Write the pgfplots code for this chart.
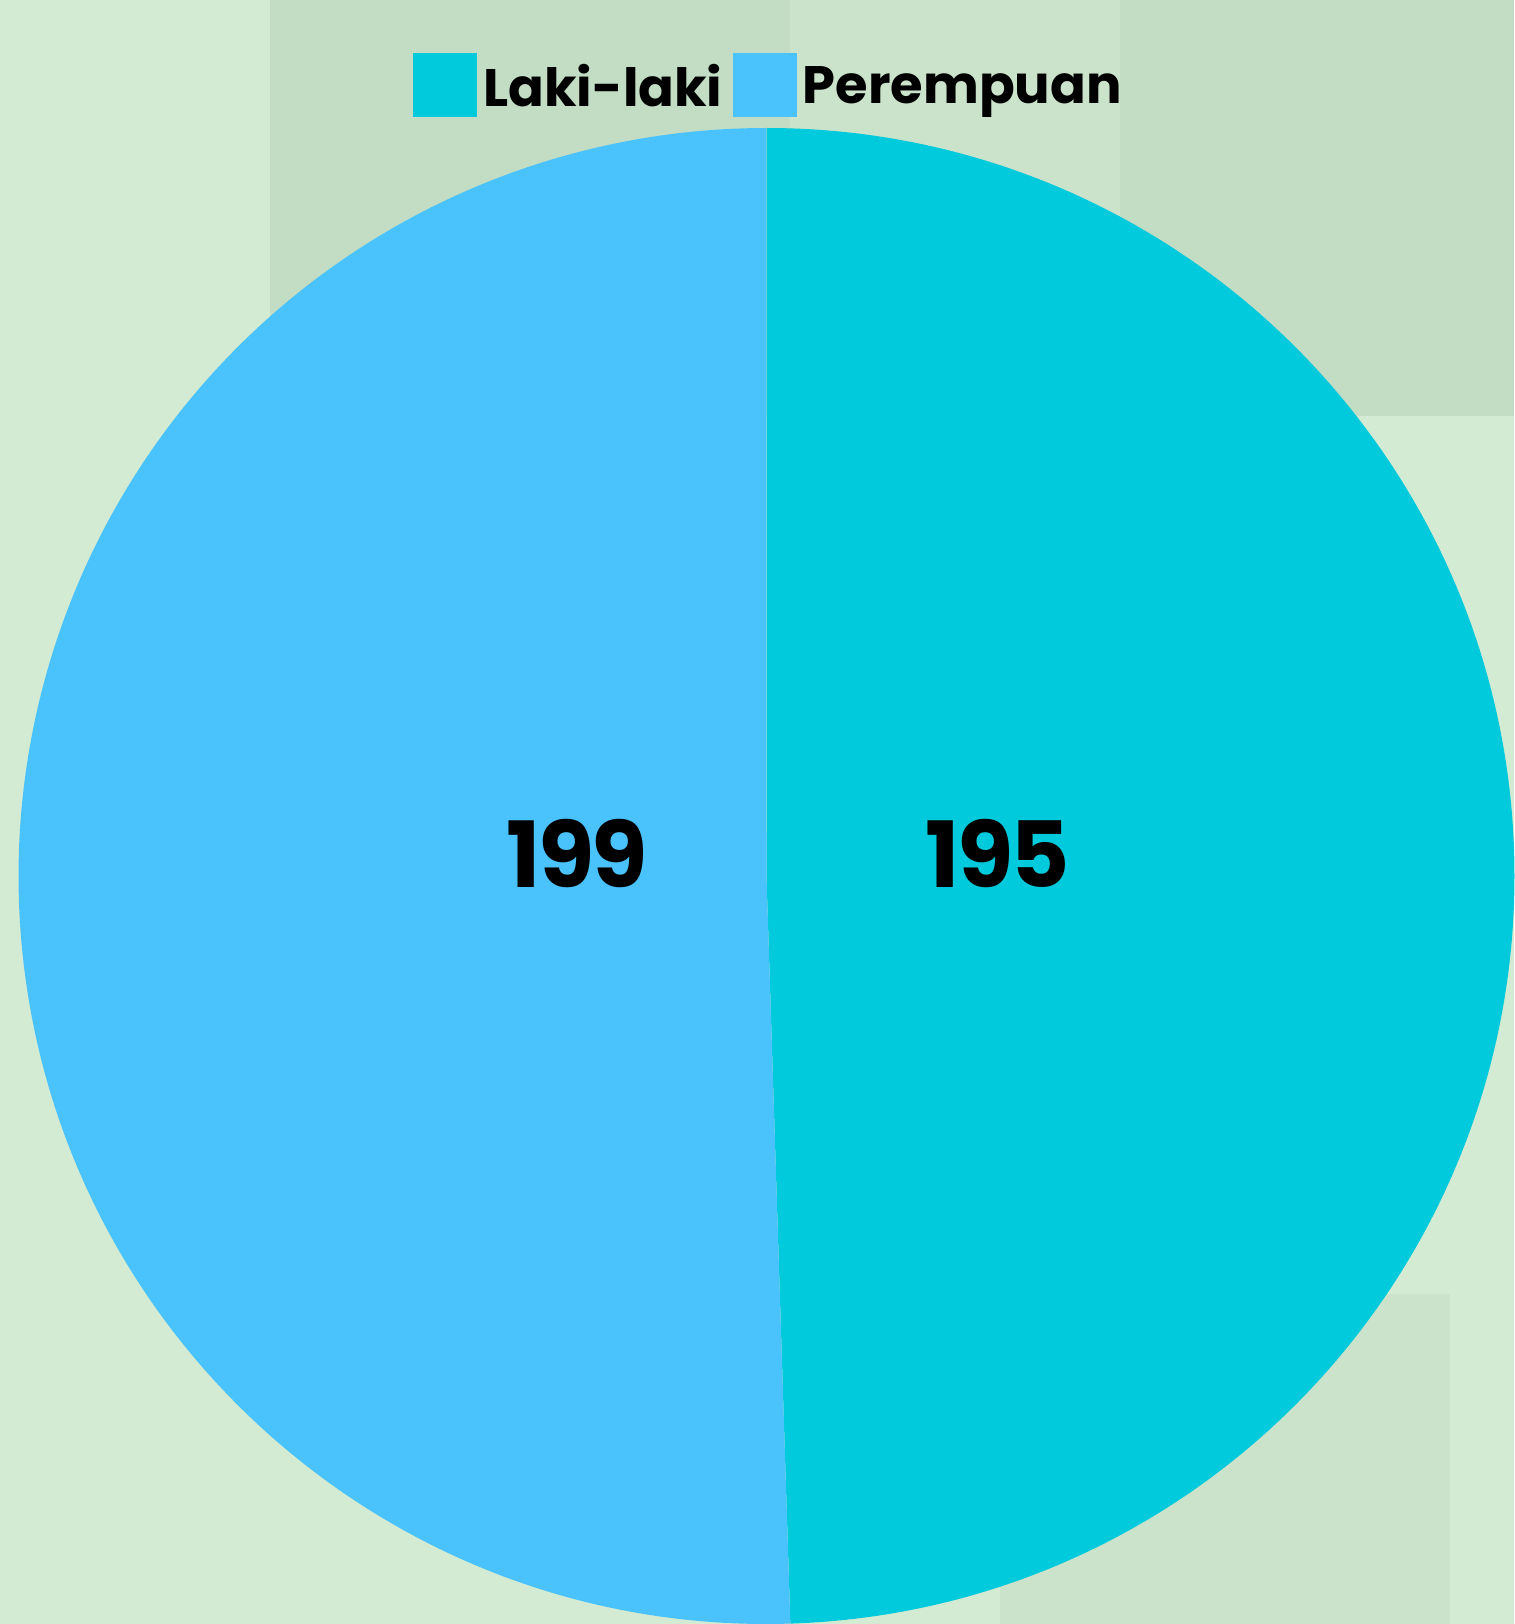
\documentclass[border=0pt]{standalone}
\usepackage{pgfplots}
\pgfplotsset{compat=1.18}
\usepackage{fontspec}
\setmainfont{Poppins}
\newfontfamily\numfont{Poppins}[LetterSpace=-3]
\definecolor{laki}{HTML}{00CADB}
\definecolor{perem}{HTML}{4AC3FC}
\definecolor{bglight}{HTML}{D3EBD2}
\definecolor{bgdark}{HTML}{C2DDC4}
\definecolor{bgmid}{HTML}{CBE3CB}
% data
\def\valL{195}
\def\valP{199}
\pgfmathsetmacro{\total}{\valL+\valP}
\pgfmathsetmacro{\angL}{\valL/\total*360}
\pgfmathsetmacro{\endL}{90-\angL}
\pgfmathsetmacro{\endP}{\endL-\valP/\total*360}
\begin{document}
\begin{tikzpicture}
\begin{axis}[
  width=15.14cm, height=16.24cm, scale only axis,
  xmin=0, xmax=1514, ymin=0, ymax=1624,
  hide axis, clip=false,
  legend columns=2,
  legend style={draw=none, fill=none, inner sep=0pt, outer sep=0pt,
    at={(rel axis cs:0.2728,0.9477)}, anchor=west,
    font=\bfseries\fontsize{15}{18}\selectfont,
    nodes={inner sep=0pt, text depth=0pt},
    /tikz/every odd column/.append style={column sep=0.6mm},
    /tikz/every even column/.append style={column sep=1.0mm}},
  legend image code/.code={\fill[#1] (0mm,-3.15mm) rectangle (6.3mm,3.15mm);},
]
% background
\fill[bglight] (axis cs:0,0) rectangle (axis cs:1514,1624);
\fill[bgdark] (axis cs:270,1208) rectangle (axis cs:1514,1624);
\fill[bgmid] (axis cs:790,1300) rectangle (axis cs:1120,1624);
\fill[bgmid] (axis cs:1000,0) rectangle (axis cs:1450,330);
\coordinate (bl) at (axis cs:0,0);
\coordinate (tr) at (axis cs:1514,1624);
% pie
\fill[laki] (axis cs:766.5,748) -- ++(90:74.8mm) arc[start angle=90, end angle=\endL, radius=74.8mm] -- cycle;
\fill[perem] (axis cs:766.5,748) -- ++(\endL:74.8mm) arc[start angle=\endL, end angle=\endP, radius=74.8mm] -- cycle;
\addlegendimage{laki}
\addlegendentry{Laki-laki}
\addlegendimage{perem}
\addlegendentry{Perempuan}
\node[font=\numfont\bfseries\fontsize{26}{28}\selectfont, inner sep=0pt] at (axis cs:998,770.5) {\valL};
\node[font=\numfont\bfseries\fontsize{26}{28}\selectfont, inner sep=0pt] at (axis cs:577,770.5) {\valP};
\end{axis}
\pgfresetboundingbox
\useasboundingbox (bl) rectangle (tr);
\end{tikzpicture}
\end{document}
